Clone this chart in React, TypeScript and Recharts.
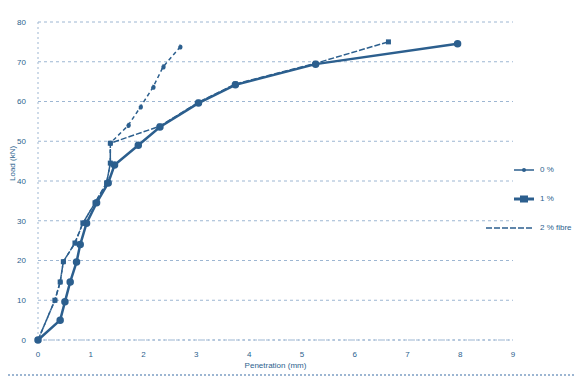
import { CartesianGrid, Line, LineChart, XAxis, YAxis } from "recharts";

const X_TICKS = [0, 1, 2, 3, 4, 5, 6, 7, 8, 9];
const Y_TICKS = [0, 10, 20, 30, 40, 50, 60, 70, 80];

const SERIES_A = [
  { x: 0, y: 0 },
  { x: 0.42, y: 5 },
  { x: 0.51, y: 9.6 },
  { x: 0.61, y: 14.6 },
  { x: 0.73, y: 19.6 },
  { x: 0.8, y: 24 },
  { x: 0.92, y: 29.4 },
  { x: 1.11, y: 34.5 },
  { x: 1.33, y: 39.5 },
  { x: 1.45, y: 44 },
  { x: 1.9, y: 49 },
  { x: 2.31, y: 53.6 },
  { x: 3.04, y: 59.6 },
  { x: 3.74, y: 64.2 },
  { x: 5.26, y: 69.4 },
  { x: 7.95, y: 74.5 },
];

const SERIES_B = [
  { x: 0, y: 0 },
  { x: 0.32, y: 10 },
  { x: 0.42, y: 14.6 },
  { x: 0.48, y: 19.7 },
  { x: 0.7, y: 24.4 },
  { x: 0.85, y: 29.4 },
  { x: 1.08, y: 34.5 },
  { x: 1.3, y: 39.5 },
  { x: 1.37, y: 44.5 },
  { x: 1.37, y: 49.5 },
  { x: 2.31, y: 53.8 },
  { x: 3.04, y: 59.8 },
  { x: 3.74, y: 64.4 },
  { x: 5.26, y: 69.6 },
  { x: 6.64, y: 75 },
];

const SERIES_C = [
  { x: 0, y: 0 },
  { x: 0.32, y: 10 },
  { x: 0.42, y: 14.6 },
  { x: 0.48, y: 19.7 },
  { x: 0.7, y: 24.4 },
  { x: 0.85, y: 29.4 },
  { x: 1.08, y: 34.5 },
  { x: 1.3, y: 39.5 },
  { x: 1.37, y: 44.5 },
  { x: 1.37, y: 49.5 },
  { x: 1.71, y: 54 },
  { x: 1.94, y: 58.6 },
  { x: 2.18, y: 63.6 },
  { x: 2.37, y: 68.7 },
  { x: 2.69, y: 73.7 },
];

const NAMES = ["0 %", "1 %", "2 % fibre"];

const BLUE = "#2c5f8e";
const GRID = "#9db6d2";
const FONT = "'Liberation Sans', Arial, sans-serif";

function LegendBox() {
  const items = [
    { name: NAMES[0], dash: undefined, width: 1.5, marker: "circle", len: 20 },
    { name: NAMES[1], dash: undefined, width: 3, marker: "square", len: 20 },
    { name: NAMES[2], dash: "6 2", width: 1.5, marker: "none", len: 48 },
  ];
  return (
    <div
      style={{
        position: "absolute",
        left: 472,
        top: 147,
        width: 102,
        fontFamily: FONT,
        fontSize: 8,
        color: BLUE,
      }}
    >
      {items.map((it, i) => (
        <div key={i} style={{ display: "flex", alignItems: "center", justifyContent: "flex-end", height: 29 }}>
          <svg width={it.len} height={10}>
            <line x1={0} y1={5} x2={it.len} y2={5} stroke={BLUE} strokeWidth={it.width} strokeDasharray={it.dash} />
            {it.marker === "circle" && <circle cx={it.len / 2} cy={5} r={2} fill={BLUE} />}
            {it.marker === "square" && <rect x={it.len / 2 - 4} y={1.5} width={8} height={7} fill={BLUE} />}
          </svg>
          <span style={{ marginLeft: 6, width: 42 }}>{it.name}</span>
        </div>
      ))}
    </div>
  );
}

export default function App() {
  return (
    <div style={{ width: 574, height: 366, position: "relative", borderBottom: `2px dotted ${GRID}` }}>
      <LineChart
        width={574}
        height={366}
        margin={{ top: 14, right: 69, bottom: 4, left: 8 }}
        style={{ fontFamily: FONT }}
      >
        <CartesianGrid vertical={false} stroke={GRID} strokeDasharray="3 3" />
        <XAxis
          type="number"
          dataKey="x"
          domain={[0, 9]}
          ticks={X_TICKS}
          stroke={GRID}
          strokeDasharray="2 3"
          tickLine={false}
          tick={{ fill: BLUE, fontSize: 8, dy: 3 }}
          height={30}
          label={{ value: "Penetration (mm)", position: "insideBottom", offset: 2, fill: BLUE, fontSize: 8 }}
        />
        <YAxis
          type="number"
          dataKey="y"
          domain={[0, 80]}
          ticks={Y_TICKS}
          stroke={GRID}
          strokeDasharray="2 3"
          tickLine={false}
          tick={{ fill: BLUE, fontSize: 8, dx: -4 }}
          width={22}
          label={{ value: "Load (kN)", angle: -90, position: "insideLeft", offset: -4, fill: BLUE, fontSize: 8 }}
        />
        <Line
          data={SERIES_A}
          dataKey="y"
          name={NAMES[0]}
          type="linear"
          stroke={BLUE}
          strokeWidth={2.5}
          dot={{ r: 2.5, fill: BLUE, stroke: BLUE }}
          isAnimationActive={false}
        />
        <Line
          data={SERIES_B}
          dataKey="y"
          name={NAMES[1]}
          type="linear"
          stroke={BLUE}
          strokeWidth={1.5}
          strokeDasharray="6 2"
          dot={(p: any) => (
            <rect key={p.index} x={p.cx - 2.5} y={p.cy - 2.5} width={5} height={5} fill={BLUE} />
          )}
          isAnimationActive={false}
        />
        <Line
          data={SERIES_C}
          dataKey="y"
          name={NAMES[2]}
          type="linear"
          stroke={BLUE}
          strokeWidth={1.5}
          strokeDasharray="4 3"
          dot={{ r: 1.8, fill: BLUE, stroke: BLUE }}
          isAnimationActive={false}
        />
      </LineChart>
      <LegendBox />
    </div>
  );
}
